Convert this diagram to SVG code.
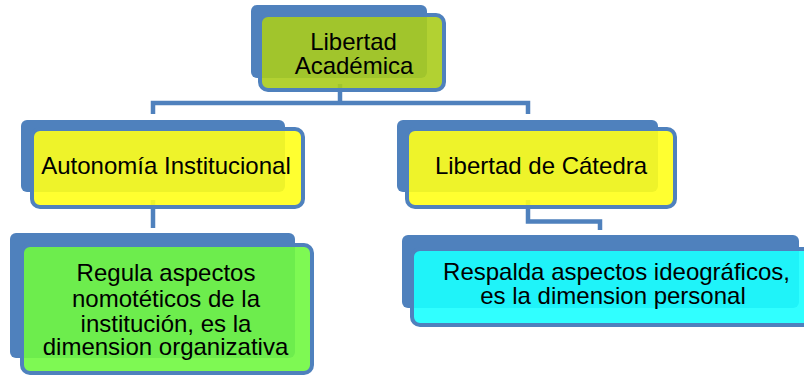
<svg xmlns="http://www.w3.org/2000/svg" width="804" height="378" viewBox="0 0 804 378">
<style>
.back{fill:#4f81bd}
.front{stroke:#4f81bd;stroke-width:4;fill-opacity:0.9}
.conn{fill:none;stroke:#4f81bd;stroke-width:4.5;stroke-linejoin:miter}
text{font-family:"Liberation Sans",Arial,sans-serif;font-size:24px;fill:#000;text-anchor:middle}
</style>
<rect width="804" height="378" fill="#fff"/>
<g id="connectors">
<path class="conn" d="M340,84 V103"/>
<path class="conn" d="M153,114 V103 H528 V114"/>
<path class="conn" d="M153,200 V228"/>
<path class="conn" d="M528,200 V221.5 H600 V230"/>
</g>
<g id="n-libertad-academica">
<rect class="back" x="251" y="5" width="176" height="73" rx="6"/>
<rect class="front" x="260" y="15" width="184" height="75" rx="8" fill="#aacc1c"/>
<text x="353.5" y="50">Libertad</text>
<text x="354" y="74">Académica</text>
</g>
<g id="n-autonomia">
<rect class="back" x="21" y="120" width="264" height="72" rx="6"/>
<rect class="front" x="32" y="129" width="271" height="78" rx="8" fill="#ffff1a"/>
<text x="166" y="174">Autonomía Institucional</text>
</g>
<g id="n-catedra">
<rect class="back" x="397" y="120" width="261" height="72" rx="6"/>
<rect class="front" x="407" y="129" width="268" height="78" rx="8" fill="#ffff1a"/>
<text x="541" y="174">Libertad de Cátedra</text>
</g>
<g id="n-regula">
<rect class="back" x="10" y="233" width="285" height="125" rx="6"/>
<rect class="front" x="22" y="245" width="290" height="128" rx="8" fill="#70f840"/>
<text x="166" y="281">Regula aspectos</text>
<text x="166" y="306.5">nomotéticos de la</text>
<text x="166" y="331.5">institución, es la</text>
<text x="165.5" y="355">dimension organizativa</text>
</g>
<g id="n-respalda">
<rect class="back" x="402" y="235" width="397" height="73" rx="6"/>
<rect class="front" x="412" y="249" width="400" height="76" rx="8" fill="#1affff"/>
<text x="616.5" y="280">Respalda aspectos ideográficos,</text>
<text x="613" y="303.5">es la dimension personal</text>
</g>
</svg>
